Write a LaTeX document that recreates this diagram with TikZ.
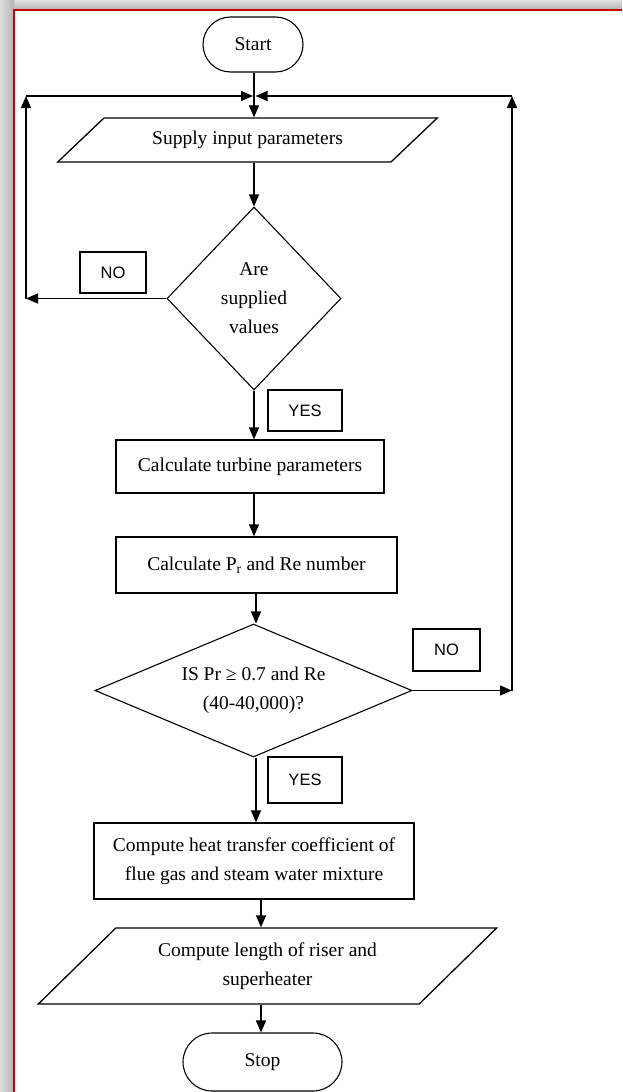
\documentclass[tikz,border=0pt]{standalone}
\usepackage{fontspec}
\setmainfont{Liberation Serif}
\newfontfamily\labfont{Liberation Sans}
\usetikzlibrary{shapes.geometric,shapes.misc,arrows.meta}
\begin{document}
\begin{tikzpicture}[x=1pt,y=-1pt,
 mainfont/.style={font=\fontsize{19.5}{29}\selectfont},
 box/.style={draw, line width=1.3pt, rectangle, inner sep=0pt, align=center, mainfont},
 term/.style={draw, line width=1.1pt, rounded rectangle, inner sep=0pt, mainfont},
 para/.style={draw, line width=1.3pt, trapezium, trapezium stretches=true, inner sep=0pt, align=center, mainfont},
 dec/.style={draw, line width=1.1pt, diamond, inner sep=0pt, align=center, mainfont},
 lab/.style={draw, line width=1.1pt, rectangle, inner sep=0pt, font=\labfont\fontsize{16.5}{18}\selectfont},
 arr/.style={line width=1.3pt, -{Triangle[length=12pt,width=10pt]}}]
\useasboundingbox (0,0) rectangle (622,1092);
\shade[top color=gray!25, bottom color=gray!60] (0,0) rectangle (622,10);
\shade[left color=gray!25, right color=gray!60] (0,0) rectangle (14,1092);
\fill[white] (14,10) rectangle (622,1092);
\draw[red!80!black, line width=1.5pt] (14,1092) -- (14,10) -- (622,10);

\node[term, minimum width=100pt, minimum height=55pt] (start) at (253,44.5) {Start};
\node[para, trapezium left angle=30, trapezium right angle=150, minimum width=381pt, minimum height=44pt] (p1) at (247.5,140) {Supply input parameters};
\node[dec, minimum width=174pt, minimum height=183pt] (d1) at (254,298.5) {Are\\supplied\\values};
\node[lab, minimum width=66pt, minimum height=41pt] (no1) at (113,272.5) {NO};
\node[lab, minimum width=74pt, minimum height=41pt] (yes1) at (305,410.5) {YES};
\node[box, minimum width=268pt, minimum height=53pt] (r1) at (250,466.5) {Calculate turbine parameters};
\node[box, minimum width=281pt, minimum height=56pt] (r2) at (256.5,565) {Calculate P\textsubscript{r} and Re number};
\node[dec, aspect=2.4, minimum width=317pt, minimum height=133pt] (d2) at (253.5,690.5) {IS Pr ≥ 0.7 and Re\\(40-40,000)?};
\node[lab, minimum width=67pt, minimum height=42pt] (no2) at (446.5,650) {NO};
\node[lab, minimum width=74pt, minimum height=46pt] (yes2) at (305,780) {YES};
\node[box, minimum width=320pt, minimum height=76pt] (r3) at (254,861) {Compute heat transfer coefficient of\\flue gas and steam water mixture};
\node[para, trapezium left angle=40, trapezium right angle=140, minimum width=459pt, minimum height=76pt] (p2) at (267.5,966) {Compute length of riser and\\superheater};
\node[term, minimum width=159pt, minimum height=58pt] (stop) at (262.5,1062) {Stop};

\coordinate (cL1) at (26,298.5);
\coordinate (cL2) at (26,96);
\coordinate (jML) at (254,96);
\coordinate (cR1) at (512,690.5);
\coordinate (cR2) at (512,96);
\coordinate (jMR) at (254,96);

\draw[arr] (start.south -| 254,0) -- (p1.north -| 254,0);
\draw[arr] (p1.south -| 254,0) -- (d1.north);
\draw[arr] (d1.west) -- (cL1);
\draw[arr] (cL1) -- (cL2);
\draw[arr] (cL2) -- ([xshift=-1pt]jML);
\draw[arr] (d2.east) -- (cR1);
\draw[arr] (cR1) -- (cR2);
\draw[arr] (cR2) -- ([xshift=1.5pt]jMR);
\draw[arr] (d1.south) -- (r1.north -| d1.south);
\draw[arr] (r1.south -| 254,0) -- (r2.north -| 254,0);
\draw[arr] (r2.south -| 256,0) -- (d2.north -| 256,0);
\draw[arr] (d2.south -| 256,0) -- (r3.north -| 256,0);
\draw[arr] (r3.south -| 261,0) -- (p2.north -| 261,0);
\draw[arr] (p2.south -| 261,0) -- (stop.north -| 261,0);
\end{tikzpicture}
\end{document}
